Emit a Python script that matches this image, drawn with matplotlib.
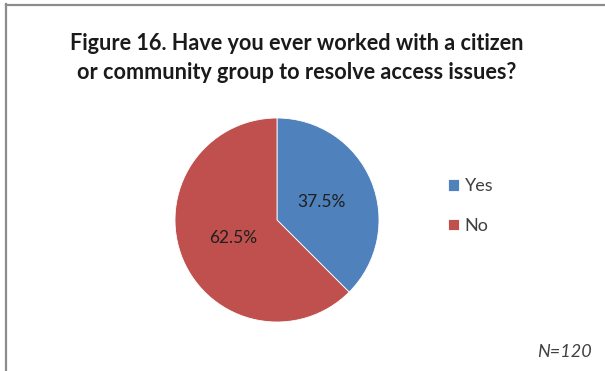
import matplotlib
matplotlib.use("Agg")
import matplotlib.pyplot as plt
from matplotlib.lines import Line2D

labels = ["Yes", "No"]
shares = [37.5, 62.5]
colors = ["#4F81BD", "#C0504D"]
title = "Figure 16. Have you ever worked with a citizen\nor community group to resolve access issues?"
note = "N=120"

W, H = 605, 371
fig = plt.figure(figsize=(W / 100, H / 100), dpi=100)
fig.patch.set_facecolor("white")

# pie area: centre (277, 220) px, radius 102 px
cx, cy, r = 277, 220, 102
ax = fig.add_axes([(cx - r) / W, (H - cy - r) / H, 2 * r / W, 2 * r / H])
wedges, _, autotexts = ax.pie(
    shares, colors=colors, startangle=90, counterclock=False,
    autopct="%.1f%%", pctdistance=0.47,
    wedgeprops=dict(edgecolor="white", linewidth=0.6),
    textprops=dict(fontsize=12.5, color="#1f1f1f", family="Lato"),
)
ax.set_xlim(-1, 1)
ax.set_ylim(-1, 1)
ax.set_aspect("equal")
ax.axis("off")

fig.text(297 / W, 1 - 58 / H, title, ha="center", va="center",
         fontsize=15.6, fontweight="bold", family="Lato", color="#1a1a1a",
         linespacing=1.5)

leg = fig.legend(wedges, labels, loc="center left",
                 bbox_to_anchor=(432 / W, 1 - 206 / H), frameon=False,
                 handlelength=0.6, handleheight=0.6, handletextpad=0.3,
                 labelspacing=1.3, prop=dict(family="Lato", size=13))
for t in leg.get_texts():
    t.set_color("#404040")

fig.text(592 / W, 1 - 352 / H, note, ha="right", va="center",
         fontsize=13, style="italic", family="Lato", color="#404040")

# chart frame, only left and top edges show
fig.add_artist(Line2D([5.5 / W, 5.5 / W], [0, 1 - 3.5 / H], color="#8c8c8c", linewidth=1.6,
                      transform=fig.transFigure))
fig.add_artist(Line2D([5.5 / W, 1], [1 - 4.5 / H, 1 - 4.5 / H], color="#8c8c8c", linewidth=1.6,
                      transform=fig.transFigure))

fig.savefig("out.png", dpi=100)
